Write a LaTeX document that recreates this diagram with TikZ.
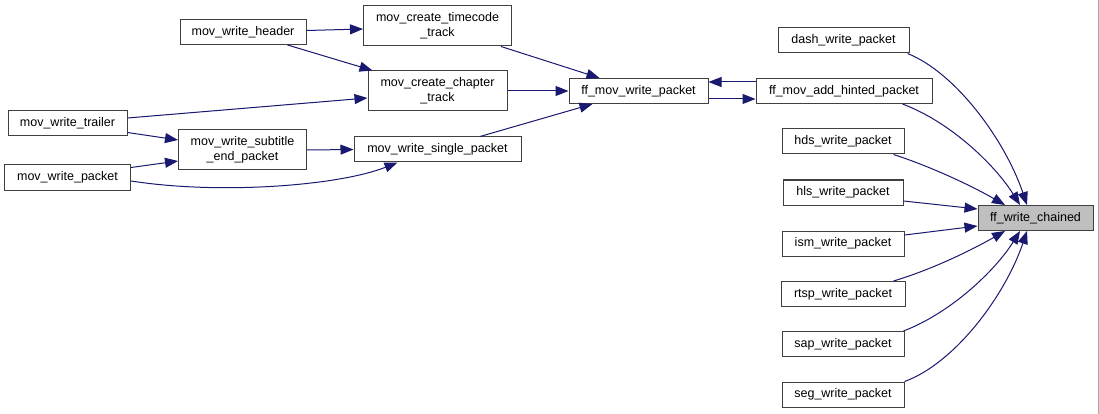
\documentclass[tikz,border=0pt]{standalone}
\usepackage{fontspec}
\setmainfont{Liberation Sans}
\usetikzlibrary{arrows.meta,calc}
\definecolor{edgeblue}{HTML}{191970}
\definecolor{boxline}{HTML}{404040}
\definecolor{hlfill}{HTML}{BFBFBF}
\definecolor{framegray}{HTML}{A8A8A8}
\begin{document}
\begin{tikzpicture}[x=1pt,y=-1pt,
  fn/.style={draw=boxline, line width=1pt, fill=white, inner sep=0pt, align=center,
    font=\fontsize{12.5}{15}\selectfont, minimum height=25pt},
  fntwo/.style={fn, minimum height=40pt},
  call/.style={draw=edgeblue, line width=1pt, -{Triangle[length=13pt,width=10pt]}}]
\useasboundingbox[fill=white] (0,0) rectangle (1099,414);
\draw[framegray, line width=1pt] (1098.5,0) -- (1098.5,414);

% nodes
\node[fn, minimum width=126pt] (header) at (243,32) {mov\_write\_header};
\node[fntwo, minimum width=148pt] (timecode) at (437.5,26) {mov\_create\_timecode\\\_track};
\node[fntwo, minimum width=139pt] (chapter) at (437.5,91) {mov\_create\_chapter\\\_track};
\node[fn, minimum width=139pt] (ffmov) at (638.5,91) {ff\_mov\_write\_packet};
\node[fn, minimum width=131pt] (dash) at (843.5,40.5) {dash\_write\_packet};
\node[fn, minimum width=176pt] (hinted) at (844,91) {ff\_mov\_add\_hinted\_packet};
\node[fn, minimum width=122pt] (hds) at (843,141.5) {hds\_write\_packet};
\node[fn, minimum width=120pt] (hls) at (843,192.5) {hls\_write\_packet};
\node[fn, minimum width=115pt, fill=hlfill] (chained) at (1035.5,218) {ff\_write\_chained};
\node[fn, minimum width=122pt] (ism) at (843,243.5) {ism\_write\_packet};
\node[fn, minimum width=124pt] (rtsp) at (843,294) {rtsp\_write\_packet};
\node[fn, minimum width=122pt] (sap) at (843,344) {sap\_write\_packet};
\node[fn, minimum width=122pt] (seg) at (843,394.5) {seg\_write\_packet};
\node[fn, minimum width=119pt] (trailer) at (67.5,123.5) {mov\_write\_trailer};
\node[fntwo, minimum width=128pt] (subtitle) at (242.5,150) {mov\_write\_subtitle\\\_end\_packet};
\node[fn, minimum width=167pt] (single) at (437.5,149.5) {mov\_write\_single\_packet};
\node[fn, minimum width=126pt] (movpacket) at (67.5,177.5) {mov\_write\_packet};

% edges on the left part
\draw[call] ($(header.east)+(0,-1.5)$) -- ($(timecode.west)+(0,3)$);
\draw[call] ($(header.south east)+(-19,0)$) -- ($(chapter.north west)+(5,0)$);
\draw[call] ($(timecode.south east)+(-11,0)$) -- ($(ffmov.north west)+(31,0)$);
\draw[call] (chapter.east) -- (ffmov.west);
\draw[call] ($(single.north)+(42.5,0)$) -- ($(ffmov.south west)+(24,0)$);
\draw[call] ($(trailer.east)+(0,-5.5)$) -- ($(chapter.west)+(0,7)$);
\draw[call] ($(trailer.south east)+(0,-4)$) -- ($(subtitle.west)+(0,-10)$);
\draw[call] ($(movpacket.north east)+(0,3)$) -- ($(subtitle.west)+(0,11)$);
\draw[call] ($(movpacket.east)+(0,3.5)$) .. controls +(90,14) and +(-58,23) .. ($(single.south west)+(44,0)$);
\draw[call] (subtitle.east) -- (single.west);
\draw[call] ($(hinted.west)+(0,-9)$) -- ($(ffmov.east)+(0,-9)$);
\draw[call] ($(ffmov.east)+(0,8)$) -- ($(hinted.west)+(0,8)$);

% edges to ff_write_chained
\draw[call] ($(dash.south east)+(-2,0)$) .. controls +(48,19) and +(-22,-65) .. ($(chained.north)+(-8.5,0)$);
\draw[call] ($(hinted.south east)+(-30,0)$) .. controls +(48,18) and +(-25,-40) .. ($(chained.north)+(-15.5,0)$);
\draw[call] ($(hds.south east)+(-11,0)$) .. controls +(37,12) and +(-35,-20) .. ($(chained.north)+(-30.5,0)$);
\draw[call] ($(hls.east)+(0,8.5)$) -- ($(chained.west)+(0,-9)$);
\draw[call] ($(ism.east)+(0,-8.5)$) -- ($(chained.west)+(0,8)$);
\draw[call] ($(rtsp.north east)+(-12,0)$) .. controls +(37,-11) and +(-35,20) .. ($(chained.south)+(-30.5,0)$);
\draw[call] ($(sap.north east)+(-1,0)$) .. controls +(47,-18) and +(-25,40) .. ($(chained.south)+(-15.5,0)$);
\draw[call] (seg.north east) .. controls +(50,-18) and +(-22,65) .. ($(chained.south)+(-8.5,0)$);
\end{tikzpicture}
\end{document}
